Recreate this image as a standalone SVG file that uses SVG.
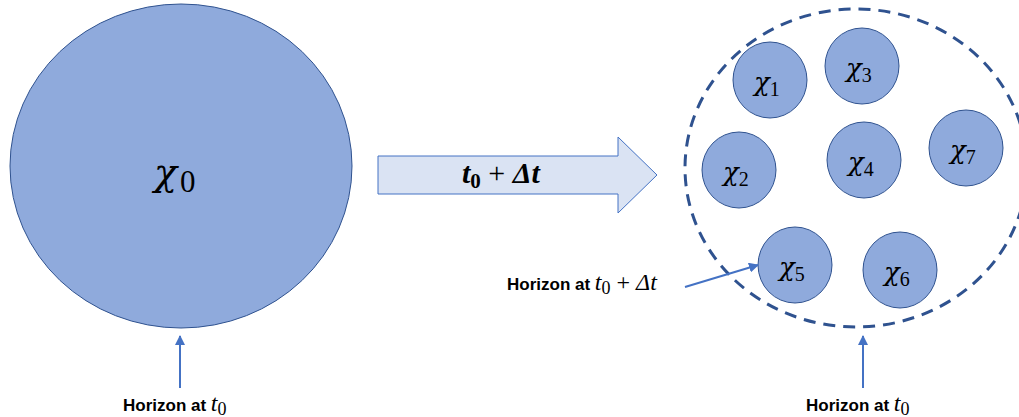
<svg xmlns="http://www.w3.org/2000/svg" width="1019" height="417" viewBox="0 0 1019 417">
<style>
.blob{fill:#8FAADC;stroke:#2F528F;stroke-width:1}
.math{font-family:"DejaVu Serif","Liberation Serif",serif;font-style:italic;fill:#000}
.num{font-family:"Liberation Serif","DejaVu Serif",serif;font-style:normal;font-weight:normal}
.lbl{font-family:"Liberation Sans",Arial,sans-serif;font-weight:bold;font-size:17px;fill:#000}
.conn{stroke:#4472C4;stroke-width:2;fill:none}
</style>
<defs>
<marker id="ah" viewBox="0 0 10 10" refX="9" refY="5" markerWidth="5" markerHeight="5" orient="auto" markerUnits="strokeWidth">
<path d="M0,0 L10,5 L0,10 z" fill="#4472C4"/>
</marker>
</defs>
<rect width="1019" height="417" fill="#fff"/>
<g id="chi0">
<ellipse class="blob" cx="181" cy="166" rx="171" ry="162"/>
<text class="math" x="154" y="185" font-size="38">χ<tspan class="num" font-size="31" dx="3" dy="7">0</tspan></text>
</g>
<g id="time-arrow">
<path d="M378,156 L618,156 L618,137 L657,175 L618,213 L618,194 L378,194 Z" fill="#DAE3F3" stroke="#4472C4" stroke-width="1"/>
<text x="462" y="183" font-family="Liberation Serif,serif" font-size="30" font-weight="bold" font-style="italic">t<tspan font-style="normal" font-size="21" dy="5">0</tspan><tspan font-style="normal" font-weight="normal" dy="-5"> + </tspan>Δt</text>
</g>
<g id="horizon-t1">
<ellipse cx="856" cy="168" rx="171" ry="159" fill="none" stroke="#2F528F" stroke-width="3" stroke-dasharray="12 8"/>
</g>
<g id="chi1"><ellipse class="blob" cx="770" cy="80" rx="37" ry="38"/><text class="math" x="754" y="91" font-size="26">χ<tspan class="num" font-size="20" dy="5">1</tspan></text></g>
<g id="chi3"><ellipse class="blob" cx="862" cy="66" rx="37" ry="38"/><text class="math" x="846" y="77" font-size="26">χ<tspan class="num" font-size="20" dy="5">3</tspan></text></g>
<g id="chi2"><ellipse class="blob" cx="739" cy="170" rx="37" ry="38"/><text class="math" x="723" y="181" font-size="26">χ<tspan class="num" font-size="20" dy="5">2</tspan></text></g>
<g id="chi4"><ellipse class="blob" cx="864" cy="160" rx="37" ry="38"/><text class="math" x="848" y="171" font-size="26">χ<tspan class="num" font-size="20" dy="5">4</tspan></text></g>
<g id="chi7"><ellipse class="blob" cx="966" cy="148" rx="37" ry="38"/><text class="math" x="950" y="159" font-size="26">χ<tspan class="num" font-size="20" dy="5">7</tspan></text></g>
<g id="chi5"><ellipse class="blob" cx="795" cy="265" rx="37" ry="38"/><text class="math" x="779" y="276" font-size="26">χ<tspan class="num" font-size="20" dy="5">5</tspan></text></g>
<g id="chi6"><ellipse class="blob" cx="900" cy="270" rx="37" ry="38"/><text class="math" x="884" y="281" font-size="26">χ<tspan class="num" font-size="20" dy="5">6</tspan></text></g>
<g id="connectors">
<line class="conn" x1="180" y1="388" x2="180" y2="336" marker-end="url(#ah)"/>
<line class="conn" x1="863" y1="388" x2="863" y2="336" marker-end="url(#ah)"/>
<line class="conn" x1="685" y1="287" x2="758" y2="265" marker-end="url(#ah)"/>
</g>
<g id="label-left">
<text class="lbl" x="123" y="411">Horizon at <tspan font-family="Liberation Serif,serif" font-style="italic" font-weight="normal" font-size="24">t</tspan><tspan class="num" font-size="18" dy="4">0</tspan></text>
</g>
<g id="label-right">
<text class="lbl" x="806" y="411">Horizon at <tspan font-family="Liberation Serif,serif" font-style="italic" font-weight="normal" font-size="24">t</tspan><tspan class="num" font-size="18" dy="4">0</tspan></text>
</g>
<g id="label-mid">
<text class="lbl" x="507" y="290">Horizon at <tspan font-family="Liberation Serif,serif" font-style="italic" font-weight="normal" font-size="24">t</tspan><tspan class="num" font-size="18" dy="4">0</tspan><tspan class="num" font-size="24" dy="-4"> + </tspan><tspan font-family="Liberation Serif,serif" font-style="italic" font-weight="normal" font-size="24">Δt</tspan></text>
</g>
</svg>
